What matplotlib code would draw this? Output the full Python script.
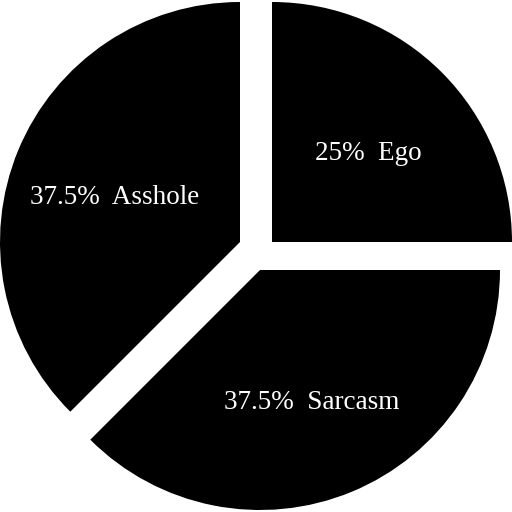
import numpy as np
import matplotlib
matplotlib.use("Agg")
import matplotlib.pyplot as plt

# slice data
names = ["Ego", "Asshole", "Sarcasm"]
shares = [25, 37.5, 37.5]
pct_labels = ["25%", "37.5%", "37.5%"]

# per-slice shift away from the common centre (pixels)
shifts = [(16, 14), (-16, 14), (4, -14)]

plt.rcParams['font.family'] = ['Liberation Serif', 'DejaVu Serif']

fig = plt.figure(figsize=(5.12, 5.12), dpi=100)
ax = fig.add_axes([0, 0, 1, 1])

cx, cy, rad = 256, 256, 240
wedges, _ = ax.pie(shares, colors=["black"] * 3, startangle=0, counterclock=True,
                   radius=rad, center=(cx, cy), wedgeprops=dict(linewidth=0))

for w, (dx, dy), nm, pc in zip(wedges, shifts, names, pct_labels):
    c = (cx + dx, cy + dy)
    w.set_center(c)
    mid = np.deg2rad((w.theta1 + w.theta2) / 2)
    tx = c[0] + 0.565 * rad * np.cos(mid)
    ty = c[1] + 0.565 * rad * np.sin(mid) - 4
    ax.text(tx, ty, pc + "  " + nm, color="white", fontsize=19.5,
            ha="center", va="center_baseline")

ax.set_xlim(0, 512)
ax.set_ylim(0, 512)
ax.set_aspect('equal')
ax.axis('off')

plt.savefig("out.png", dpi=100, facecolor="white")
